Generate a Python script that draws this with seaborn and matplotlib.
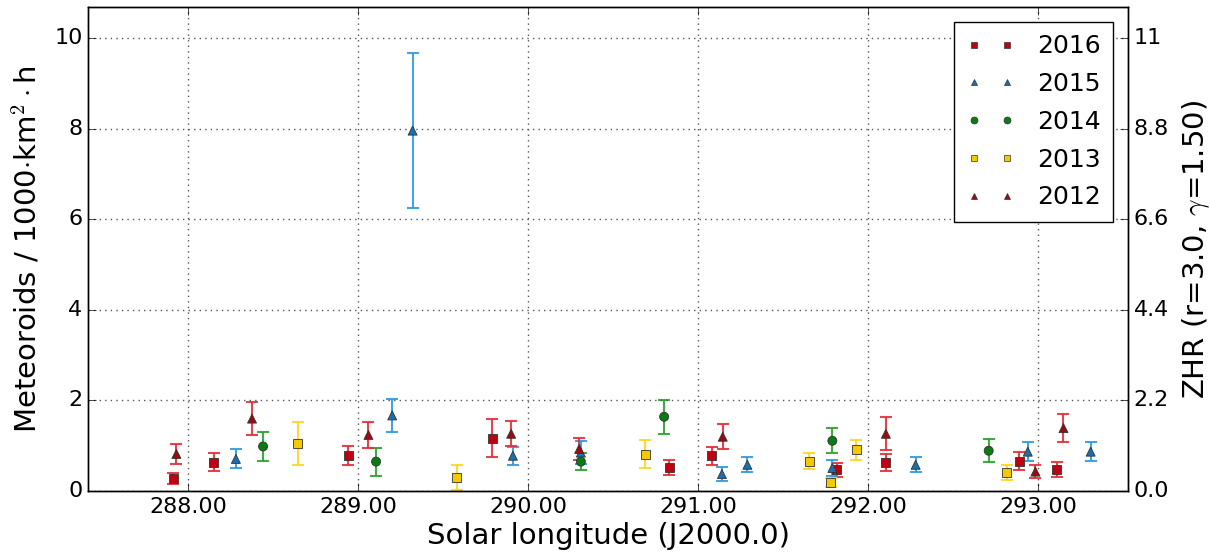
import numpy as np
import pandas as pd
import matplotlib
matplotlib.use("Agg")
import matplotlib.pyplot as plt
from matplotlib.lines import Line2D
import seaborn as sns

# Solar longitude, rate and error per year
x_2016 = [287.91, 288.15, 288.94, 289.79, 290.83, 291.08, 291.815, 292.105, 292.89, 293.11]
y_2016 = [0.28, 0.64, 0.78, 1.17, 0.52, 0.78, 0.47, 0.635, 0.66, 0.475]
e_2016 = [0.12, 0.19, 0.21, 0.41, 0.17, 0.20, 0.16, 0.19, 0.20, 0.17]

x_2015 = [288.28, 289.20, 289.32, 289.91, 290.31, 291.14, 291.29, 291.79, 292.28, 292.94, 293.31]
y_2015 = [0.71, 1.67, 7.96, 0.78, 0.85, 0.375, 0.58, 0.51, 0.58, 0.87, 0.87]
e_2015 = [0.21, 0.36, 1.72, 0.20, 0.25, 0.155, 0.17, 0.18, 0.17, 0.21, 0.21]

x_2014 = [288.44, 289.105, 290.31, 290.80, 291.79, 292.71]
y_2014 = [0.985, 0.65, 0.65, 1.64, 1.11, 0.89]
e_2014 = [0.32, 0.31, 0.18, 0.37, 0.28, 0.25]

x_2013 = [288.645, 289.58, 290.69, 291.655, 291.78, 291.93, 292.815]
y_2013 = [1.05, 0.30, 0.815, 0.66, 0.19, 0.91, 0.405]
e_2013 = [0.48, 0.28, 0.31, 0.18, 0.10, 0.22, 0.16]

x_2012 = [287.93, 288.375, 289.06, 289.90, 290.30, 291.145, 292.105, 292.985, 293.15]
y_2012 = [0.82, 1.60, 1.24, 1.265, 0.93, 1.20, 1.265, 0.43, 1.39]
e_2012 = [0.22, 0.37, 0.28, 0.28, 0.25, 0.28, 0.36, 0.15, 0.31]

years = ["2016", "2015", "2014", "2013", "2012"]
xs = [x_2016, x_2015, x_2014, x_2013, x_2012]
ys = [y_2016, y_2015, y_2014, y_2013, y_2012]
es = [e_2016, e_2015, e_2014, e_2013, e_2012]

zhr_ticks = [0.0, 2.2, 4.4, 6.6, 8.8, 11]
zhr_labels = ["0.0", "2.2", "4.4", "6.6", "8.8", "11"]

# styling per year
face = {"2016": "#c00010", "2015": "#1a6fae", "2014": "#0a7a12", "2013": "#f5c800", "2012": "#9a0a10"}
bar = {"2016": "#e0303a", "2015": "#2f9ae0", "2014": "#2ea02e", "2013": "#ffd520", "2012": "#e0303a"}
marks = {"2016": "s", "2015": "^", "2014": "o", "2013": "s", "2012": "^"}

df = pd.concat(
    [pd.DataFrame({"lon": x, "rate": y, "err": e, "year": yr}) for yr, x, y, e in zip(years, xs, ys, es)],
    ignore_index=True,
)

plt.style.use("classic")
plt.rcParams["font.family"] = ["DejaVu Sans"]

fig = plt.figure(figsize=(12.11, 5.58), dpi=100, facecolor="white")
ax = fig.add_axes([0.0727, 0.12, 0.8588, 0.8675])

for yr in years:
    d = df[df.year == yr]
    ax.errorbar(d.lon, d.rate, yerr=d.err, fmt="none", ecolor=bar[yr],
                elinewidth=1.5, capsize=4, capthick=1.5, alpha=0.9, zorder=2)

sns.scatterplot(data=df, x="lon", y="rate", hue="year", style="year",
                palette=face, markers=marks, s=42, edgecolor="#333333",
                linewidth=0.6, legend=False, ax=ax, zorder=3)

ax.set_xlim(287.41, 293.53)
ax.set_ylim(0, 10.69)
ax.set_xticks([288, 289, 290, 291, 292, 293])
ax.set_xticklabels([f"{v:.2f}" for v in [288, 289, 290, 291, 292, 293]])
ax.set_yticks([0, 2, 4, 6, 8, 10])
ax.set_yticklabels(["0", "2", "4", "6", "8", "10"])
ax.grid(True, color="#555555", linestyle=":", linewidth=1.0)
ax.tick_params(labelsize=16, direction="in", length=6)
ax.set_xlabel("Solar longitude (J2000.0)", fontsize=21, labelpad=4)
ax.set_ylabel("Meteoroids / 1000$\\cdot$km$^2\\cdot$h", fontsize=21, labelpad=8)

ax2 = ax.twinx()
ax2.set_ylim(0, 10.69 * 1.1)
ax2.set_yticks(zhr_ticks)
ax2.set_yticklabels(zhr_labels)
ax2.tick_params(labelsize=16, direction="in", length=6)
ax2.set_ylabel("ZHR (r=3.0, $\\gamma$=1.50)", fontsize=21, labelpad=8)

handles = [Line2D([], [], linestyle="none", marker=marks[yr], markersize=5,
                  markerfacecolor=face[yr], markeredgecolor="#333333", markeredgewidth=0.5)
           for yr in years]
leg = ax.legend(handles, years, loc="upper right", numpoints=2, fontsize=18,
                frameon=True, fancybox=False, borderpad=0.5, labelspacing=0.55,
                handlelength=1.9, handletextpad=0.9, borderaxespad=0.6)
leg.get_frame().set_edgecolor("black")

fig.savefig("out.png", dpi=100, facecolor="white")
